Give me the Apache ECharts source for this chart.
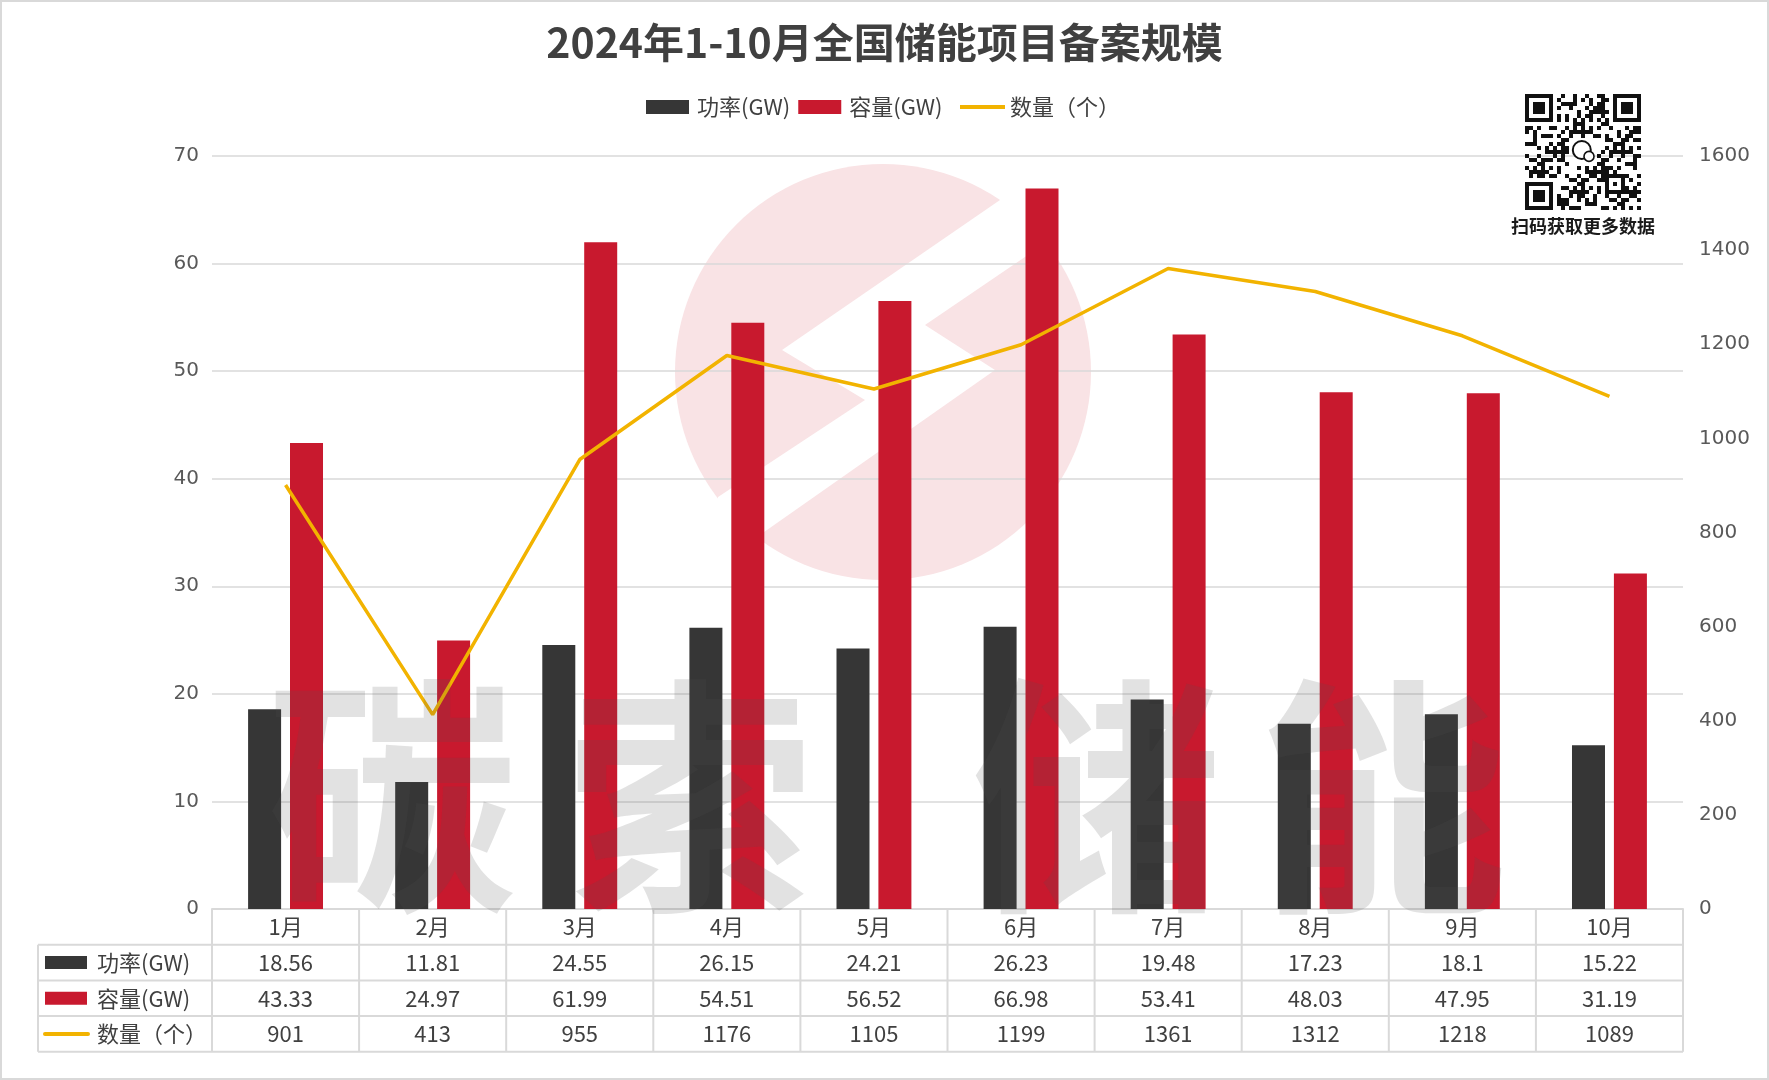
<!DOCTYPE html>
<html><head><meta charset="utf-8">
<script src="https://cdn.jsdelivr.net/npm/echarts@6/dist/echarts.min.js"></script>
<style>html,body{margin:0;padding:0;background:#fff}#c{width:1769px;height:1080px}</style>
</head><body><div id="c"></div>
<script>
// ---- data ----
const months = ['1月','2月','3月','4月','5月','6月','7月','8月','9月','10月'];
const powerGW = [18.56, 11.81, 24.55, 26.15, 24.21, 26.23, 19.48, 17.23, 18.1, 15.22];
const capacityGW = [43.33, 24.97, 61.99, 54.51, 56.52, 66.98, 53.41, 48.03, 47.95, 31.19];
const projectCount = [901, 413, 955, 1176, 1105, 1199, 1361, 1312, 1218, 1089];
const seriesNames = ['功率(GW)', '容量(GW)', '数量（个）'];
const titleText = '2024年1-10月全国储能项目备案规模';
const watermarkChars = ['碳', '索', '储', '能'];
const qrCaption = '扫码获取更多数据';

// ---- layout ----
const W = 1769, H = 1080;
const GL = 212, GR = 1683, GT = 156, GB = 909;
const ROW = 35.7, TL = 38;
const colW = (GR - GL) / months.length;
const CJK = '"Noto Sans CJK SC", "Noto Sans", sans-serif';
const NUM = '"DejaVu Sans", sans-serif';
const C_BLACK = '#363636', C_RED = '#C8192E', C_YEL = '#F2B300';
const C_LINE = '#D9D9D9', C_TXT = '#404040';

const g = [];
// frame
g.push({type:'rect', z:50, shape:{x:1,y:1,width:W-2,height:H-2}, style:{fill:'none', stroke:'#D9D9D9', lineWidth:2}});

// logo watermark (behind)
const cx = 883, cy = 372, r = 208;
g.push({type:'circle', z:-2, silent:true, shape:{cx, cy, r}, style:{fill:'#F9E3E5'}});
g.push({type:'polygon', z:-1, silent:true, shape:{points:[
  [1000,200],[782,350],[865,400],[718,497],[716,540],[757,537],[995,370],[925,325],[1047,242],[1043,199]
]}, style:{fill:'#ffffff'}});

// text watermark (on top)
const wmX = [392, 690, 1097, 1382];
watermarkChars.forEach((ch, i) => {
  g.push({type:'text', z:30, silent:true, x: wmX[i], y: 797, style:{
    text: ch, font: 'bold 250px ' + CJK, fill: 'rgba(84,84,84,0.17)', align:'center', verticalAlign:'middle'
  }});
});

// table lines
const rowY = k => GB + ROW * k;
for (let k = 1; k <= 4; k++) {
  g.push({type:'line', z:20, shape:{x1:TL, y1:rowY(k), x2:GR, y2:rowY(k)}, style:{stroke:C_LINE, lineWidth:2}});
}
g.push({type:'line', z:20, shape:{x1:TL, y1:rowY(1), x2:TL, y2:rowY(4)}, style:{stroke:C_LINE, lineWidth:2}});
for (let k = 0; k <= months.length; k++) {
  const x = GL + colW * k;
  g.push({type:'line', z:20, shape:{x1:x, y1:GB, x2:x, y2:rowY(4)}, style:{stroke:C_LINE, lineWidth:2}});
}
// row headers
const rowVals = [powerGW, capacityGW, projectCount];
const rowColors = [C_BLACK, C_RED, C_YEL];
rowVals.forEach((vals, ri) => {
  const yc = rowY(ri + 1) + ROW / 2;
  if (ri < 2) {
    g.push({type:'rect', z:21, shape:{x:45, y:yc-6.5, width:42, height:13}, style:{fill:rowColors[ri]}});
  } else {
    g.push({type:'rect', z:21, shape:{x:43, y:yc-2, width:47, height:4, r:2}, style:{fill:rowColors[ri]}});
  }
  g.push({type:'text', z:21, x:97, y:yc, style:{text: seriesNames[ri], font:'22px ' + CJK, fill:C_TXT, verticalAlign:'middle'}});
  vals.forEach((v, ci) => {
    g.push({type:'text', z:21, x: GL + colW * (ci + 0.5), y: yc, style:{
      text: String(v), font:'22px ' + CJK, fill:C_TXT, align:'center', verticalAlign:'middle'}});
  });
});

// QR code decoration (deterministic pattern)
const QN = 29, QS = 4, QX = 1525, QY = 94;
function isFinder(r, c) {
  const inBox = (r0, c0) => r >= r0 && r < r0 + 7 && c >= c0 && c < c0 + 7;
  return inBox(0,0) || inBox(0,QN-7) || inBox(QN-7,0);
}
function finderOn(r, c) {
  const f = (r0, c0) => {
    const rr = r - r0, cc = c - c0;
    if (rr < 0 || rr > 6 || cc < 0 || cc > 6) return null;
    const edge = rr === 0 || rr === 6 || cc === 0 || cc === 6;
    const core = rr >= 2 && rr <= 4 && cc >= 2 && cc <= 4;
    return edge || core;
  };
  let v = f(0,0); if (v !== null) return v;
  v = f(0,QN-7); if (v !== null) return v;
  v = f(QN-7,0); return v;
}
for (let r = 0; r < QN; r++) {
  for (let c = 0; c < QN; c++) {
    let on;
    const nearFinder = (r <= 7 && c <= 7) || (r <= 7 && c >= QN-8) || (r >= QN-8 && c <= 7);
    if (isFinder(r, c)) on = finderOn(r, c);
    else if (nearFinder) on = false;
    else if (r >= 20 && r <= 24 && c >= 20 && c <= 24) {
      const rr = r - 20, cc = c - 20;
      on = rr === 0 || rr === 4 || cc === 0 || cc === 4 || (rr === 2 && cc === 2);
    } else if (r >= 11 && r <= 17 && c >= 11 && c <= 17) on = false;
    else if (r === 6) on = c % 2 === 0;
    else if (c === 6) on = r % 2 === 0;
    else on = ((r * 7 + c * 13 + ((r * c) % 5)) % 3) === 0 || ((r + c * 3) % 7 === 1);
    if (on) g.push({type:'rect', z:40, silent:true, shape:{x: QX + c*QS, y: QY + r*QS, width: QS, height: QS}, style:{fill:'#111'}});
  }
}
// wechat-like bubble in centre
g.push({type:'circle', z:41, shape:{cx: QX + 14.2*QS, cy: QY + 14*QS, r: 9}, style:{fill:'#fff', stroke:'#111', lineWidth:2}});
g.push({type:'circle', z:41, shape:{cx: QX + 16*QS, cy: QY + 15.6*QS, r: 5}, style:{fill:'#fff', stroke:'#111', lineWidth:1.6}});
g.push({type:'text', z:41, x: 1583, y: 226, style:{text: qrCaption, font:'bold 18px ' + CJK, fill:'#1a1a1a', align:'center', verticalAlign:'middle'}});

const chart = echarts.init(document.getElementById('c'));
chart.setOption({
  backgroundColor: '#ffffff',
  animation: false,
  title: {
    text: titleText, left: 'center', top: 17,
    textStyle: {fontFamily: CJK, fontSize: 41, fontWeight: 'bold', color: C_TXT}
  },
  legend: [{
    data: [{name: seriesNames[0], icon: 'rect'}, {name: seriesNames[1], icon: 'rect'}],
    left: 641, top: 91, itemWidth: 43, itemHeight: 14, itemGap: 8,
    itemStyle: {borderWidth: 0},
    textStyle: {fontFamily: CJK, fontSize: 22, color: C_TXT, padding: [0, 0, 0, 3]}
  }, {
    data: [{name: seriesNames[2], icon: 'rect'}],
    left: 955, top: 91, itemWidth: 45, itemHeight: 4, itemGap: 8,
    itemStyle: {borderWidth: 0},
    textStyle: {fontFamily: CJK, fontSize: 22, color: C_TXT, padding: [0, 0, 0, 0]}
  }],
  grid: {left: GL, right: W - GR, top: GT, bottom: H - GB, containLabel: false},
  xAxis: {
    type: 'category', data: months, boundaryGap: true,
    axisLine: {show: true, lineStyle: {color: C_LINE, width: 2}},
    axisTick: {show: false},
    axisLabel: {show: true, interval: 0, margin: 7, color: C_TXT, fontFamily: CJK, fontSize: 22, lineHeight: 22}
  },
  yAxis: [{
    type: 'value', min: 0, max: 70, interval: 10,
    axisLine: {show: false}, axisTick: {show: false},
    axisLabel: {color: '#595959', fontFamily: NUM, fontSize: 20, margin: 13, formatter: v => String(v)},
    splitLine: {show: true, lineStyle: {color: C_LINE, width: 1.5}}
  }, {
    type: 'value', min: 0, max: 1600, interval: 200,
    axisLine: {show: false}, axisTick: {show: false},
    axisLabel: {color: '#595959', fontFamily: NUM, fontSize: 20, margin: 16, formatter: v => String(v)},
    splitLine: {show: false}
  }],
  series: [{
    name: seriesNames[0], type: 'bar', data: powerGW, barWidth: 33, barGap: '27%',
    itemStyle: {color: C_BLACK}
  }, {
    name: seriesNames[1], type: 'bar', data: capacityGW, barWidth: 33,
    itemStyle: {color: C_RED}
  }, {
    name: seriesNames[2], type: 'line', data: projectCount, yAxisIndex: 1,
    symbol: 'none', z: 5, lineStyle: {color: C_YEL, width: 3.5}, itemStyle: {color: C_YEL}
  }],
  graphic: {elements: g}
});
</script></body></html>
